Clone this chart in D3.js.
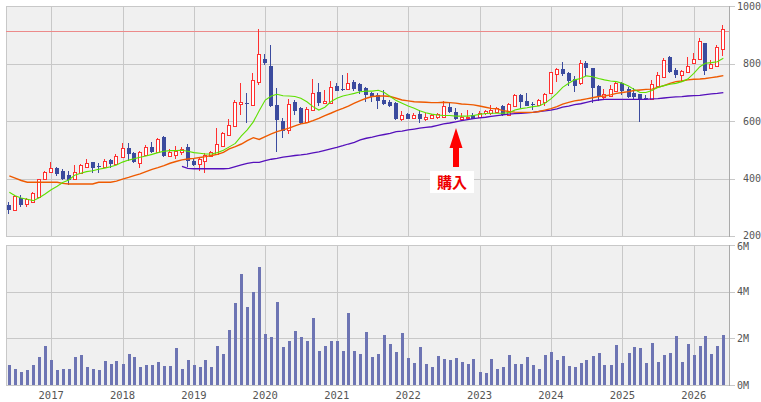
<!DOCTYPE html>
<html>
<head>
<meta charset="utf-8">
<script src="https://cdn.jsdelivr.net/npm/d3@7"></script>
<style>
  body { margin: 0; background: #fff; }
  svg { display: block; }
</style>
</head>
<body>
<div id="chart"></div>
<script>
// monthly candles, Jun 2016 .. Jun 2026
const firstMonth = new Date(2016, 5, 1);
const lastMonth = new Date(2026, 5, 1);

const opens = [309,290,333,312,320,335,397,422,435,425,412,398,418,441,456,445,441,464,452,474,
  505,488,453,482,511,493,546,480,482,491,511,461,452,462,480,485,514,552,583,658,
  664,656,735,816,791,655,601,569,665,646,595,638,701,662,664,722,710,710,737,729,
  714,696,691,673,667,662,606,624,609,624,606,609,613,615,650,633,606,609,621,615,
  627,629,631,652,621,652,691,670,658,656,667,696,762,781,766,746,731,803,783,722,
  685,687,706,731,710,696,693,681,677,723,754,822,777,760,772,801,815,870,783,793,849];
const highs = [319,343,342,333,354,400,426,457,439,432,427,447,449,467,457,453,467,469,485,525,
  525,493,496,515,528,541,548,502,514,511,520,470,474,488,497,577,563,607,673,733,
  696,768,919,833,864,714,609,677,673,650,648,745,733,708,740,731,760,768,743,731,
  720,702,696,708,673,667,635,629,627,638,629,624,629,671,664,644,627,638,627,635,
  638,655,650,656,662,693,693,696,666,677,696,772,786,805,769,757,812,809,785,725,
  710,725,736,737,717,716,694,691,743,772,818,826,783,777,822,838,890,873,812,864,934];
const lows = [278,288,300,302,316,331,394,418,410,395,377,395,415,435,420,420,438,435,449,470,
  462,454,438,478,490,490,476,476,469,482,441,444,427,420,476,482,511,550,580,621,
  594,652,725,795,650,493,540,554,621,590,592,636,652,659,662,703,706,708,706,694,
  666,667,643,657,650,604,601,606,607,594,601,606,607,613,629,604,604,606,606,613,
  621,621,629,617,617,650,644,652,638,652,652,694,737,757,723,702,725,757,664,670,
  675,682,702,691,679,678,598,675,674,717,752,768,751,737,766,798,812,760,781,789,826];
const closes = [290,339,309,328,351,397,422,435,417,398,395,422,447,454,438,441,461,451,478,505,
  484,459,491,511,493,536,480,492,496,502,462,448,469,482,493,520,560,586,666,667,
  659,743,833,803,652,604,566,658,636,592,642,696,662,671,717,706,708,731,710,706,
  691,682,671,659,652,606,621,608,621,606,615,621,624,652,633,606,615,615,608,629,
  635,638,644,621,658,691,665,653,656,673,694,769,781,764,740,722,801,783,714,687,
  694,710,731,706,685,682,677,677,728,760,812,772,760,774,791,816,878,775,797,859,919];

// volume, millions of shares
const volumes = [0.86,0.69,0.56,0.64,0.86,1.20,1.67,1.07,0.64,0.69,0.69,1.20,1.29,0.77,0.69,0.64,1.03,0.90,1.03,0.90,
  1.33,1.20,0.77,0.86,0.86,0.99,0.81,0.81,1.59,0.69,1.07,0.86,0.77,1.07,0.77,1.67,1.33,2.36,3.51,4.76,
  3.34,3.99,5.06,2.19,2.06,3.56,1.63,1.89,2.31,2.06,1.89,2.87,1.46,1.67,1.89,1.89,1.46,3.09,1.46,1.33,
  2.27,1.20,1.33,2.14,1.76,1.41,2.23,1.16,0.94,1.63,0.90,0.77,1.24,1.11,1.07,1.16,0.99,0.90,1.11,0.56,
  0.51,1.11,0.69,0.77,1.29,0.90,0.90,1.20,0.86,0.69,1.29,1.41,1.07,1.24,0.81,0.77,0.94,1.07,1.24,1.37,
  0.86,0.86,1.71,0.94,1.37,1.63,1.59,0.94,1.80,0.99,1.29,1.37,2.10,0.99,1.76,1.29,1.67,2.10,1.33,1.67,2.14];

// moving averages (null = not drawn)
const maShort = [352,340,332,328,323,333,346,361,373,386,395,411,418,424,427,432,436,441,447,457,
  464,469,474,478,484,490,495,497,497,498,495,490,488,485,485,490,498,510,522,548,
  569,597,636,673,687,693,688,687,685,679,667,650,638,648,667,679,687,691,696,702,
  704,704,707,699,685,671,662,652,644,636,629,624,621,619,619,617,617,617,619,623,
  626,627,627,627,629,638,643,646,650,652,662,677,696,717,731,743,748,757,754,748,
  743,739,737,731,722,710,699,699,706,717,723,728,731,737,746,766,789,801,803,806,818];
const maMid = [409,401,393,387,387,387,387,387,387,383,381,381,381,381,381,387,387,387,391,398,
  404,410,416,424,432,438,445,453,459,465,468,470,473,476,480,484,491,503,511,520,
  532,542,536,546,555,563,569,575,583,590,594,601,609,619,627,636,644,652,662,671,
  679,685,687,687,685,679,673,670,667,666,665,664,664,665,664,662,659,658,656,652,
  648,644,642,636,633,631,630,630,630,633,638,643,650,659,665,670,673,677,681,685,
  687,691,696,699,702,706,708,710,711,717,723,731,737,739,743,745,746,748,751,754,758];
const maLong = [null,null,null,null,null,null,null,null,null,null,null,null,null,null,null,null,null,null,null,null,
  null,null,null,null,null,null,null,null,null,442,435,434,434,434,434,434,434,435,441,447,
  453,456,456,462,467,470,474,477,480,482,485,489,493,498,503,508,514,520,526,534,
  540,544,549,553,557,563,565,569,572,575,578,580,585,590,593,597,601,605,608,611,
  613,616,619,621,624,626,627,628,630,633,635,638,642,648,652,657,660,665,670,673,
  675,675,675,675,675,675,675,675,677,678,680,682,684,685,687,688,689,692,694,696,699];

const priceTicks = [200, 400, 600, 800, 1000];
const volumeTicks = [0, 2, 4, 6];
const yearTicks = [2017, 2018, 2019, 2020, 2021, 2022, 2023, 2024, 2025, 2026];
const refPrice = 912;
const buyMonth = new Date(2022, 8, 1);
const buyLabel = "購入";

const width = 761, height = 402;
const plotLeft = 6, plotRight = 729;
const price = { top: 6, bottom: 236 };
const vol = { top: 245, bottom: 385 };

const months = d3.timeMonth.range(firstMonth, d3.timeMonth.offset(lastMonth, 1));
const candles = months.map((d, i) => ({
    date: d, open: opens[i], high: highs[i], low: lows[i], close: closes[i], volume: volumes[i]
}));

const svg = d3.select('#chart').append('svg')
    .attr('width', width)
    .attr('height', height)
    .style('font-family', '"DejaVu Sans Mono", monospace');

const x = d3.scaleTime()
    .domain([new Date(2016, 4, 15), new Date(2026, 5, 30)])
    .range([plotLeft, plotRight]);

const y = d3.scaleLinear()
    .domain([200, 1000])
    .range([price.bottom, price.top]);

const yVol = d3.scaleLinear()
    .domain([0, 6])
    .range([vol.bottom, vol.top]);

const px = v => Math.round(v) + 0.5;

// panel backgrounds
[price, vol].forEach(p => {
    svg.append('rect')
        .attr('x', plotLeft + 0.5).attr('y', p.top + 0.5)
        .attr('width', plotRight - plotLeft).attr('height', p.bottom - p.top)
        .attr('fill', '#f0f0f0')
        .attr('stroke', '#c8c8c8');
});

const grid = svg.append('g')
    .attr('stroke', '#c8c8c8')
    .attr('shape-rendering', 'crispEdges');

yearTicks.forEach(yr => {
    const gx = px(x(new Date(yr, 0, 1)));
    [price, vol].forEach(p => {
        grid.append('line')
            .attr('x1', gx).attr('x2', gx)
            .attr('y1', p.top).attr('y2', p.bottom);
    });
});

priceTicks.forEach(t => {
    grid.append('line')
        .attr('x1', plotLeft).attr('x2', plotRight + 6)
        .attr('y1', px(y(t))).attr('y2', px(y(t)));
});
volumeTicks.forEach(t => {
    grid.append('line')
        .attr('x1', plotLeft).attr('x2', plotRight + 6)
        .attr('y1', px(yVol(t))).attr('y2', px(yVol(t)));
});

// right edges of the panels
[price, vol].forEach(p => {
    grid.append('line')
        .attr('stroke', '#aaa')
        .attr('x1', px(plotRight)).attr('x2', px(plotRight))
        .attr('y1', p.top).attr('y2', p.bottom + 1);
});

// axis labels
svg.append('g').selectAll('text')
    .data(priceTicks)
    .enter().append('text')
    .attr('x', 761)
    .attr('y', d => y(d) - (d === 200 ? 1 : 0))
    .attr('dy', '0.35em')
    .attr('text-anchor', 'end')
    .attr('font-size', 10)
    .attr('fill', '#555')
    .text(d => d);

svg.append('g').selectAll('text')
    .data(volumeTicks)
    .enter().append('text')
    .attr('x', 737)
    .attr('y', d => yVol(d) + (d === 6 ? 1 : 0))
    .attr('dy', '0.35em')
    .attr('font-size', 10)
    .attr('fill', '#555')
    .text(d => d + 'M');

svg.append('g').selectAll('text')
    .data(yearTicks)
    .enter().append('text')
    .attr('x', d => x(new Date(d, 0, 1)))
    .attr('y', 399)
    .attr('text-anchor', 'middle')
    .attr('font-size', 10.5)
    .attr('fill', '#555')
    .text(d => d);

// reference line
svg.append('line')
    .attr('x1', plotLeft).attr('x2', plotRight)
    .attr('y1', px(y(refPrice))).attr('y2', px(y(refPrice)))
    .attr('stroke', '#ec8a8a')
    .attr('shape-rendering', 'crispEdges');

// volume bars
svg.append('g')
    .attr('shape-rendering', 'crispEdges')
    .selectAll('rect')
    .data(candles)
    .enter().append('rect')
    .attr('x', d => Math.round(x(d.date)) - 1)
    .attr('y', d => yVol(d.volume))
    .attr('width', 3)
    .attr('height', d => vol.bottom - yVol(d.volume))
    .attr('fill', '#6d74b3');

// candles
const up = '#ff3030', down = '#3b4b9e';
const cg = svg.append('g').attr('shape-rendering', 'crispEdges');

candles.forEach(d => {
    const cx = Math.round(x(d.date));
    const isUp = d.close >= d.open;
    const color = isUp ? up : down;
    const top = y(Math.max(d.open, d.close));
    const bot = y(Math.min(d.open, d.close));

    cg.append('line')
        .attr('x1', cx - 0.5).attr('x2', cx - 0.5)
        .attr('y1', y(d.high)).attr('y2', y(d.low))
        .attr('stroke', color);

    if (isUp) {
        cg.append('rect')
            .attr('x', cx - 1.5).attr('y', Math.round(top) + 0.5)
            .attr('width', 3).attr('height', Math.max(1, Math.round(bot) - Math.round(top)))
            .attr('fill', '#fff')
            .attr('stroke', color);
    } else {
        cg.append('rect')
            .attr('x', cx - 2).attr('y', Math.round(top))
            .attr('width', 4).attr('height', Math.max(1, Math.round(bot) - Math.round(top)))
            .attr('fill', color);
    }
});

// moving averages
const maLine = d3.line()
    .defined(d => d.v != null)
    .x(d => x(d.date))
    .y(d => y(d.v));

[
    { values: maLong, color: '#5510bb', width: 1.3 },
    { values: maMid, color: '#ee5a00', width: 1.4 },
    { values: maShort, color: '#5ee000', width: 1.1 }
].forEach(s => {
    svg.append('path')
        .datum(months.map((d, i) => ({ date: d, v: s.values[i] })))
        .attr('fill', 'none')
        .attr('stroke', s.color)
        .attr('stroke-width', s.width)
        .attr('d', maLine);
});

// purchase marker
const ax = Math.round(x(buyMonth));
const tipY = y(576), headY = y(506), baseY = y(440);
svg.append('path')
    .attr('d', `M${ax},${tipY} L${ax + 6.5},${headY} L${ax + 3},${headY} L${ax + 3},${baseY}` +
        ` L${ax - 3},${baseY} L${ax - 3},${headY} L${ax - 6.5},${headY} Z`)
    .attr('fill', '#ff0000');

svg.append('rect')
    .attr('x', ax - 26).attr('y', baseY + 4)
    .attr('width', 44).attr('height', 22)
    .attr('fill', '#fff');

svg.append('text')
    .attr('x', ax - 4).attr('y', baseY + 21)
    .attr('text-anchor', 'middle')
    .attr('font-family', '"Noto Sans CJK JP", sans-serif')
    .attr('font-weight', 'bold')
    .attr('font-size', 15)
    .attr('fill', '#ee0000')
    .text(buyLabel);
</script>
</body>
</html>
